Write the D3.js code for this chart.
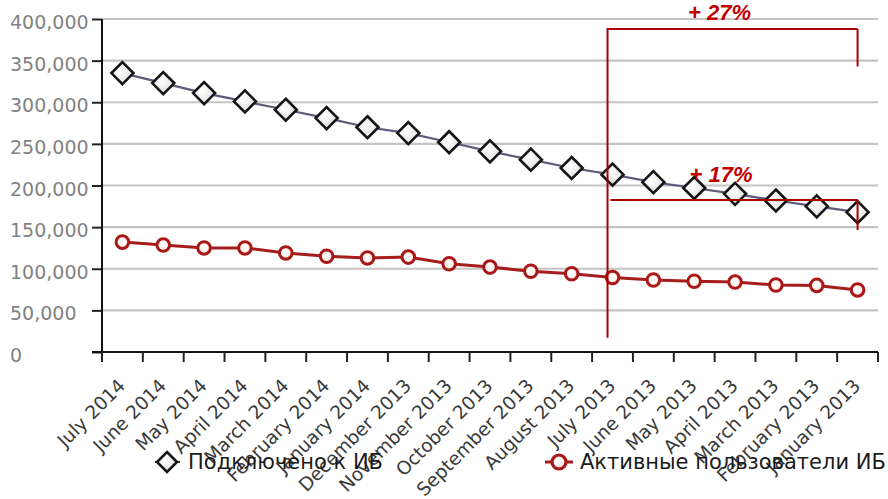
<!DOCTYPE html>
<html><head><meta charset="utf-8">
<script src="https://cdn.jsdelivr.net/npm/d3@7/dist/d3.min.js"></script>
<style>
html,body{margin:0;padding:0;background:#fff;}
svg{display:block;}
</style></head>
<body>
<svg id="chart" width="888" height="499"></svg>
<script>
const categories = ["July 2014","June 2014","May 2014","April 2014","March 2014","February 2014","January 2014","December 2013","November 2013","October 2013","September 2013","August 2013","July 2013","June 2013","May 2013","April 2013","March 2013","February 2013","January 2013"];
const connected = [335000,323000,311000,301000,291000,281000,270000,263000,252000,241000,231000,221000,213000,204000,197000,190000,182000,175000,168000];
const active = [132000,128500,125000,125000,119000,115000,113000,114000,106000,102000,97000,94000,89500,86500,85000,84000,80500,80000,74500];
const yTicks = [0,50000,100000,150000,200000,250000,300000,350000,400000];
const seriesNames = ["Подключено к ИБ","Активные пользователи ИБ"];
const annotations = [
  {label:"+ 27%", from:"July 2013", to:"January 2013", level:388000, leftBottom:17000, rightBottom:343000, labelValue:400000},
  {label:"+ 17%", from:"July 2013", to:"January 2013", level:182600, leftBottom:null, rightBottom:146500, labelValue:205000}
];

const svg = d3.select("#chart");
const L = 102, R = 878, T = 19, B = 352;
const x = d3.scaleBand().domain(categories).range([L, R]).padding(0);
const y = d3.scaleLinear().domain([0, 400000]).range([B, T]);
const cx = c => x(c) + x.bandwidth()/2;

// defs
const defs = svg.append("defs");
const gd = defs.append("radialGradient").attr("id","dia").attr("cx","40%").attr("cy","40%").attr("r","70%");
gd.append("stop").attr("offset","0%").attr("stop-color","#ffffff");
gd.append("stop").attr("offset","100%").attr("stop-color","#dcdcdc");
const gc = defs.append("radialGradient").attr("id","cir").attr("cx","45%").attr("cy","45%").attr("r","60%");
gc.append("stop").attr("offset","0%").attr("stop-color","#ffffff");
gc.append("stop").attr("offset","60%").attr("stop-color","#fff4ec");
gc.append("stop").attr("offset","100%").attr("stop-color","#f0b8b0");

// gridlines
svg.append("g").selectAll("line").data(yTicks.filter(d => d > 0)).join("line")
  .attr("x1", L).attr("x2", R).attr("y1", d => y(d)).attr("y2", d => y(d))
  .attr("stroke", "#c4c4c4").attr("stroke-width", 2.2);

// y axis
const yAxis = svg.append("g").attr("transform", `translate(${L},0)`)
  .call(d3.axisLeft(y).tickValues(yTicks).tickSize(10).tickSizeOuter(0).tickFormat(d3.format(",")));
yAxis.select(".domain").remove();
yAxis.selectAll(".tick line").attr("stroke", "#222").attr("stroke-width", 2);
yAxis.selectAll(".tick text").attr("x", -92).attr("dy", "0.5em").attr("text-anchor", "start")
  .attr("fill", "#828282").style("font-family", "DejaVu Sans").style("font-size", "19px");
svg.append("line").attr("x1", L).attr("x2", L).attr("y1", T).attr("y2", B + 10)
  .attr("stroke", "#111").attr("stroke-width", 2);

// x axis
svg.append("line").attr("x1", L - 10).attr("x2", R).attr("y1", B).attr("y2", B)
  .attr("stroke", "#111").attr("stroke-width", 2);
const xTickPos = categories.map(c => x(c)).concat([x.range()[1]]);
svg.append("g").selectAll("line").data(xTickPos).join("line")
  .attr("x1", d => d).attr("x2", d => d).attr("y1", B).attr("y2", B + 10)
  .attr("stroke", "#222").attr("stroke-width", 2);
svg.append("g").selectAll("text").data(categories).join("text")
  .attr("transform", d => `translate(${cx(d) + 4},${B + 35}) rotate(-45)`)
  .attr("text-anchor", "end").attr("fill", "#3a3a3a")
  .style("font-family", "DejaVu Sans").style("font-size", "18.6px")
  .text(d => d);

// series lines
const line = d3.line().x((d, i) => cx(categories[i])).y(d => y(d));
svg.append("path").datum(connected).attr("d", line).attr("fill", "none")
  .attr("stroke", "#5d5a7c").attr("stroke-width", 2.2);
svg.append("path").datum(active).attr("d", line).attr("fill", "none")
  .attr("stroke", "#a51d1d").attr("stroke-width", 3);

const diamond = s => `M0,${-s}L${s},0L0,${s}L${-s},0Z`;
svg.append("g").selectAll("path").data(connected).join("path")
  .attr("transform", (d, i) => `translate(${cx(categories[i])},${y(d)})`)
  .attr("d", diamond(11)).attr("fill", "url(#dia)").attr("stroke", "#151515").attr("stroke-width", 2.6);
svg.append("g").selectAll("circle").data(active).join("circle")
  .attr("cx", (d, i) => cx(categories[i])).attr("cy", d => y(d)).attr("r", 6.3)
  .attr("fill", "url(#cir)").attr("stroke", "#a81818").attr("stroke-width", 3);

// annotations
const red = "#a80000";
const ann = svg.append("g");
annotations.forEach((a, k) => {
  const x1 = k === 0 ? x(a.from) + x.bandwidth()/2 - 5 : x(a.from) + x.bandwidth()/2 - 2;
  const x2 = cx(a.to);
  ann.append("line").attr("x1", x1).attr("x2", x2).attr("y1", y(a.level)).attr("y2", y(a.level))
    .attr("stroke", red).attr("stroke-width", 2);
  ann.append("line").attr("x1", x2).attr("x2", x2).attr("y1", y(a.level)).attr("y2", y(a.rightBottom))
    .attr("stroke", red).attr("stroke-width", 2);
  if (a.leftBottom !== null) {
    ann.append("line").attr("x1", x1).attr("x2", x1).attr("y1", y(a.level) - 1).attr("y2", y(a.leftBottom))
      .attr("stroke", red).attr("stroke-width", 2);
  }
  ann.append("text").attr("x", (x1 + x2)/2 - 13).attr("y", y(a.labelValue) + 1)
    .attr("fill", "#c00000").style("font-family", "Liberation Sans").style("font-size", "22px")
    .style("font-weight", "bold").style("font-style", "italic").attr("text-anchor", "middle")
    .text(a.label);
});

// legend
const lg = svg.append("g");
const ly = 462;
lg.append("line").attr("x1", 155).attr("x2", 180).attr("y1", ly).attr("y2", ly).attr("stroke", "#333").attr("stroke-width", 2);
lg.append("path").attr("transform", `translate(167,${ly})`).attr("d", diamond(10))
  .attr("fill", "url(#dia)").attr("stroke", "#151515").attr("stroke-width", 2.6);
lg.append("text").attr("x", 188).attr("y", ly + 7).attr("fill", "#1a1a1a")
  .style("font-family", "DejaVu Sans").style("font-size", "21px").text(seriesNames[0]);
lg.append("line").attr("x1", 545).attr("x2", 573).attr("y1", ly).attr("y2", ly).attr("stroke", "#a51d1d").attr("stroke-width", 3);
lg.append("circle").attr("cx", 559).attr("cy", ly).attr("r", 7).attr("fill", "url(#cir)")
  .attr("stroke", "#a81818").attr("stroke-width", 3.2);
lg.append("text").attr("x", 580).attr("y", ly + 7).attr("fill", "#1a1a1a")
  .style("font-family", "DejaVu Sans").style("font-size", "21px").text(seriesNames[1]);
</script>
</body></html>
